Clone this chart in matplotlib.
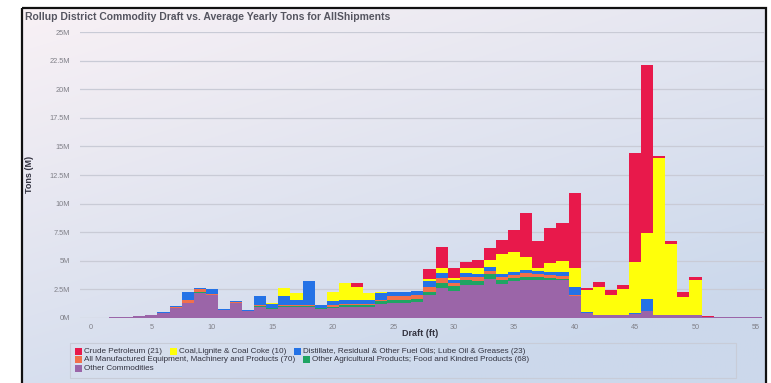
import numpy as np
import matplotlib.pyplot as plt
from matplotlib.patches import Rectangle

plt.rcParams['font.family'] = ['Liberation Sans', 'DejaVu Sans']

# draft bins (ft) and average yearly tons per commodity group (millions)
drafts = np.arange(0, 56)

crude = [0, 0, 0, 0, 0, 0, 0, 0, 0, 0,
         0, 0, 0, 0, 0, 0, 0, 0, 0, 0,
         0, 0, 0.35, 0, 0, 0, 0, 0, 0.8, 1.8,
         0.9, 0.55, 0.7, 1.05, 1.2, 1.9, 3.8, 2.35, 3.0, 3.3,
         6.55, 0.15, 0.45, 0.45, 0.4, 9.5, 14.7, 0.15, 0.25, 0.45,
         0.3, 0.05, 0.05, 0.04, 0.03, 0.04]
coal = [0, 0, 0, 0, 0, 0, 0, 0, 0, 0,
        0, 0, 0, 0, 0, 0.05, 0.7, 0.6, 0, 0,
        0.8, 1.55, 1.2, 0.65, 0.05, 0, 0, 0, 0.25, 0.5,
        0.2, 0.45, 0.5, 0.6, 1.75, 1.75, 1.15, 0.2, 0.8, 1.0,
        1.6, 1.95, 2.4, 1.7, 2.2, 4.5, 5.7, 13.7, 6.15, 1.6,
        3.05, 0, 0, 0, 0, 0]
distillate = [0, 0, 0, 0, 0.02, 0.05, 0.05, 0.1, 0.7, 0.05,
              0.4, 0.05, 0.05, 0.05, 0.8, 0.35, 0.8, 0.5, 2.15, 0.25,
              0.4, 0.35, 0.35, 0.35, 0.6, 0.4, 0.35, 0.3, 0.5, 0.4,
              0.2, 0.3, 0.3, 0.3, 0.25, 0.3, 0.3, 0.3, 0.3, 0.35,
              0.7, 0.05, 0, 0, 0, 0.05, 1.05, 0, 0, 0,
              0, 0, 0, 0, 0, 0]
manufactured = [0, 0, 0, 0, 0, 0, 0.02, 0.05, 0.2, 0.3,
                0.05, 0, 0.05, 0.05, 0.05, 0.05, 0.05, 0.05, 0.05, 0.05,
                0.1, 0.1, 0.1, 0.1, 0.1, 0.3, 0.3, 0.35, 0.4, 0.4,
                0.3, 0.3, 0.3, 0.3, 0.3, 0.25, 0.3, 0.3, 0.25, 0.2,
                0.1, 0, 0, 0, 0, 0, 0.05, 0, 0, 0,
                0, 0, 0, 0, 0, 0]
agricultural = [0, 0, 0, 0, 0, 0, 0, 0, 0.05, 0.05,
                0.05, 0, 0.05, 0, 0.05, 0.05, 0.05, 0.05, 0.05, 0.05,
                0.1, 0.1, 0.1, 0.1, 0.3, 0.3, 0.3, 0.3, 0.3, 0.5,
                0.4, 0.4, 0.35, 0.45, 0.3, 0.3, 0.3, 0.25, 0.2, 0.15,
                0.05, 0, 0, 0, 0, 0, 0, 0, 0, 0,
                0, 0, 0, 0, 0, 0]
other = [0.02, 0.03, 0.05, 0.1, 0.15, 0.25, 0.45, 0.9, 1.3, 2.2,
         2.0, 0.7, 1.3, 0.6, 1.0, 0.8, 1.0, 1.0, 1.0, 0.8,
         0.9, 1.0, 1.0, 1.0, 1.2, 1.3, 1.3, 1.4, 2.0, 2.6,
         2.4, 2.9, 2.9, 3.4, 3.0, 3.2, 3.3, 3.3, 3.3, 3.3,
         1.9, 0.45, 0.3, 0.3, 0.3, 0.35, 0.6, 0.3, 0.3, 0.25,
         0.25, 0.1, 0.08, 0.05, 0.05, 0.05]

# top of the stack first, as in the legend
series = [
    ('Crude Petroleum (21)', crude, '#E8194B'),
    ('Coal,Lignite & Coal Coke (10)', coal, '#FFFF0A'),
    ('Distillate, Residual & Other Fuel Oils; Lube Oil & Greases (23)', distillate, '#2472E6'),
    ('All Manufactured Equipment, Machinery and Products (70)', manufactured, '#F2704A'),
    ('Other Agricultural Products; Food and Kindred Products (68)', agricultural, '#1FA463'),
    ('Other Commodities', other, '#9B65A8'),
]

y_ticks = np.arange(0, 25.1, 2.5)
y_labels = ['0M', '2.5M', '5M', '7.5M', '10M', '12.5M', '15M',
            '17.5M', '20M', '22.5M', '25M']

W, H = 771, 383
fig = plt.figure(figsize=(W / 100, H / 100), dpi=100)
fig.patch.set_facecolor('white')

# background panel with soft pink-to-blue gradient and a dark frame
bg = fig.add_axes([0, 0, 1, 1])
bg.set_xlim(0, W)
bg.set_ylim(H, 0)
bg.axis('off')
gx, gy = np.meshgrid(np.linspace(0, 1, 200), np.linspace(0, 1, 100))
t = np.clip(0.45 * gx + 0.75 * gy, 0, 1)[..., None]
c0 = np.array([0.975, 0.945, 0.96])
c1 = np.array([0.80, 0.85, 0.925])
grad = c0 * (1 - t) + c1 * t
bg.imshow(grad, extent=[22, 766, H + 2, 8], aspect='auto', interpolation='bilinear')
bg.add_patch(Rectangle((22, 8), 744, H, fill=False, ec='#111111', lw=1.6))
bg.text(25, 17, 'Rollup District Commodity Draft vs. Average Yearly Tons for AllShipments',
        fontsize=7.5, fontweight='bold', color='#555560', va='center', ha='left')

ax = fig.add_axes([80 / W, 1 - 318 / H, 685 / W, 286 / H])
ax.set_facecolor('none')
bottom = np.zeros(len(drafts))
for name, vals, col in reversed(series):
    vals = np.array(vals)
    ax.bar(drafts, vals, width=1.0, bottom=bottom, color=col, linewidth=0, zorder=3)
    bottom += vals

ax.set_xlim(-0.91, 55.75)
ax.set_ylim(0, 25)
ax.set_xticks(np.arange(0, 56, 5))
ax.set_yticks(y_ticks)
ax.set_yticklabels(y_labels)
ax.tick_params(axis='both', length=0, labelsize=5.3, labelcolor='#808088')
ax.tick_params(axis='x', pad=4)
ax.tick_params(axis='y', pad=7)
ax.grid(axis='y', color='#C9CBD6', lw=0.9, zorder=0)
for s in ax.spines.values():
    s.set_visible(False)

fig.text(420 / W, 1 - 334 / H, 'Draft (ft)', fontsize=6.5, fontweight='bold',
         color='#333340', ha='center', va='center')
fig.text(30 / W, 1 - 174 / H, 'Tons (M)', fontsize=6.5, fontweight='bold',
         color='#333340', ha='center', va='center', rotation=90)

# legend box with items flowing left to right
bg.add_patch(Rectangle((70, 343), 666, 35, fill=False, ec='#C8CCD8', lw=0.8))
renderer = fig.canvas.get_renderer()
rows = [[0, 1, 2], [3, 4], [5]]
row_y = [351.5, 359.5, 368]
for row, yy in zip(rows, row_y):
    x = 75
    for i in row:
        name, _, col = series[i]
        bg.add_patch(Rectangle((x, yy - 3.5), 7, 7, color=col, lw=0))
        txt = bg.text(x + 9, yy, name, fontsize=5.9, color='#333340',
                      ha='left', va='center')
        w = txt.get_window_extent(renderer).width
        x += 9 + w + 8

fig.savefig('out.png', dpi=100)
